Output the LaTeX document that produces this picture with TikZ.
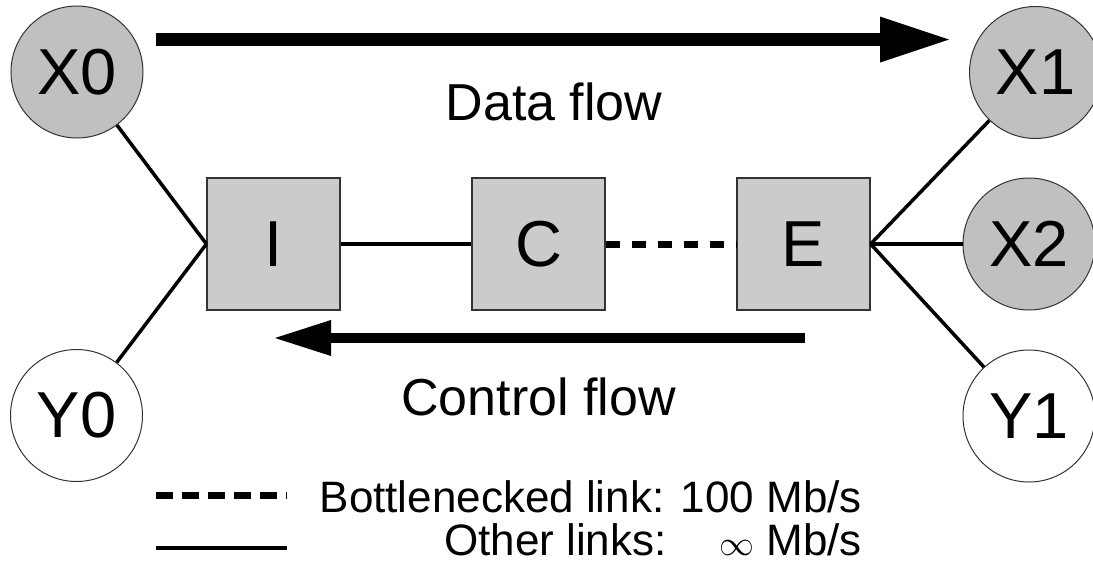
\documentclass[tikz,border=0pt]{standalone}
\usepackage{fontspec}
\usepackage{graphicx}
\setmainfont{Liberation Sans}
\usetikzlibrary{arrows.meta}
\definecolor{hostgray}{HTML}{C0C0C0}
\definecolor{routergray}{HTML}{CBCBCB}
\definecolor{edgegray}{HTML}{333333}

\begin{document}
\begin{tikzpicture}[x=1pt,y=-1pt,
  host/.style={circle, draw=edgegray, line width=1pt, minimum size=132pt,
    inner sep=0pt, font=\fontsize{65}{65}\selectfont},
  sender/.style={host, fill=hostgray},
  receiver/.style={host, fill=white},
  router/.style={rectangle, draw=edgegray, line width=1.2pt, fill=routergray,
    minimum width=133pt, minimum height=132pt, inner sep=0pt,
    font=\fontsize{65}{65}\selectfont},
  link/.style={line width=3.5pt},
  slowlink/.style={line width=7pt, dash pattern=on 14pt off 12pt},
  flowarrow/.style={line width=#1},
  flowlabel/.style={font=\fontsize{52}{52}\selectfont, inner sep=0pt, anchor=base},
  legendtext/.style={font=\fontsize{44}{44}\selectfont, inner sep=0pt, anchor=base east}
]
\useasboundingbox (0,0) rectangle (1093,571);
\clip (0,0) rectangle (1093,571);

% hosts
\node[sender]   (X0) at (77,72)        {X0};
\node[receiver] (Y0) at (76.5,415.5)   {Y0};
\node[sender]   (X1) at (1035.5,72.5)  {X1};
\node[sender]   (X2) at (1029,244)     {X2};
\node[receiver] (Y1) at (1029,416)     {Y1};

% routers: ingress, core, egress
\node[router] (I) at (273.5,244) {I};
\node[router] (C) at (538.5,244) {C};
\node[router] (E) at (803.5,244) {E};

% links
\draw[link] (I.west) -- (X0);
\draw[link] (I.west) -- (Y0);
\draw[link] (I) -- (C);
\draw[slowlink] (C) -- (E);
\draw[link] (E.east) -- (X1);
\draw[link] (E.east) -- (X2);
\draw[link] (E.east) -- (Y1);

% data flow arrow
\coordinate (dataStart) at (156,39.5);
\coordinate (dataEnd) at (949,39.5);
\draw[flowarrow=13pt, -{Triangle[length=69pt,width=46pt,line width=0pt]}]
  (dataStart) -- (dataEnd);
\node[flowlabel] (datalabel) at (554,120) {Data flow};

% control flow arrow
\coordinate (ctrlStart) at (805,338);
\coordinate (ctrlEnd) at (275,338);
\draw[flowarrow=10pt, -{Triangle[length=56pt,width=36pt,line width=0pt]}]
  (ctrlStart) -- (ctrlEnd);
\node[flowlabel] (ctrllabel) at (538.5,415) {Control flow};

% legend
\coordinate (dashA) at (156,495.5);
\coordinate (dashB) at (287,495.5);
\draw[line width=7pt, dash pattern=on 17pt off 9pt] (dashA) -- (dashB);
\coordinate (solidA) at (156,548);
\coordinate (solidB) at (287,548);
\draw[line width=4pt] (solidA) -- (solidB);
\node[legendtext] (legslow) at (862,512) {Bottlenecked link: 100 Mb/s};
\node[legendtext] (legother) at (862,555)
  {Other links:\hspace{53pt}\scalebox{1.4}{\fontsize{24}{24}\selectfont$\infty$}\hspace{12pt}Mb/s};
\end{tikzpicture}
\end{document}
